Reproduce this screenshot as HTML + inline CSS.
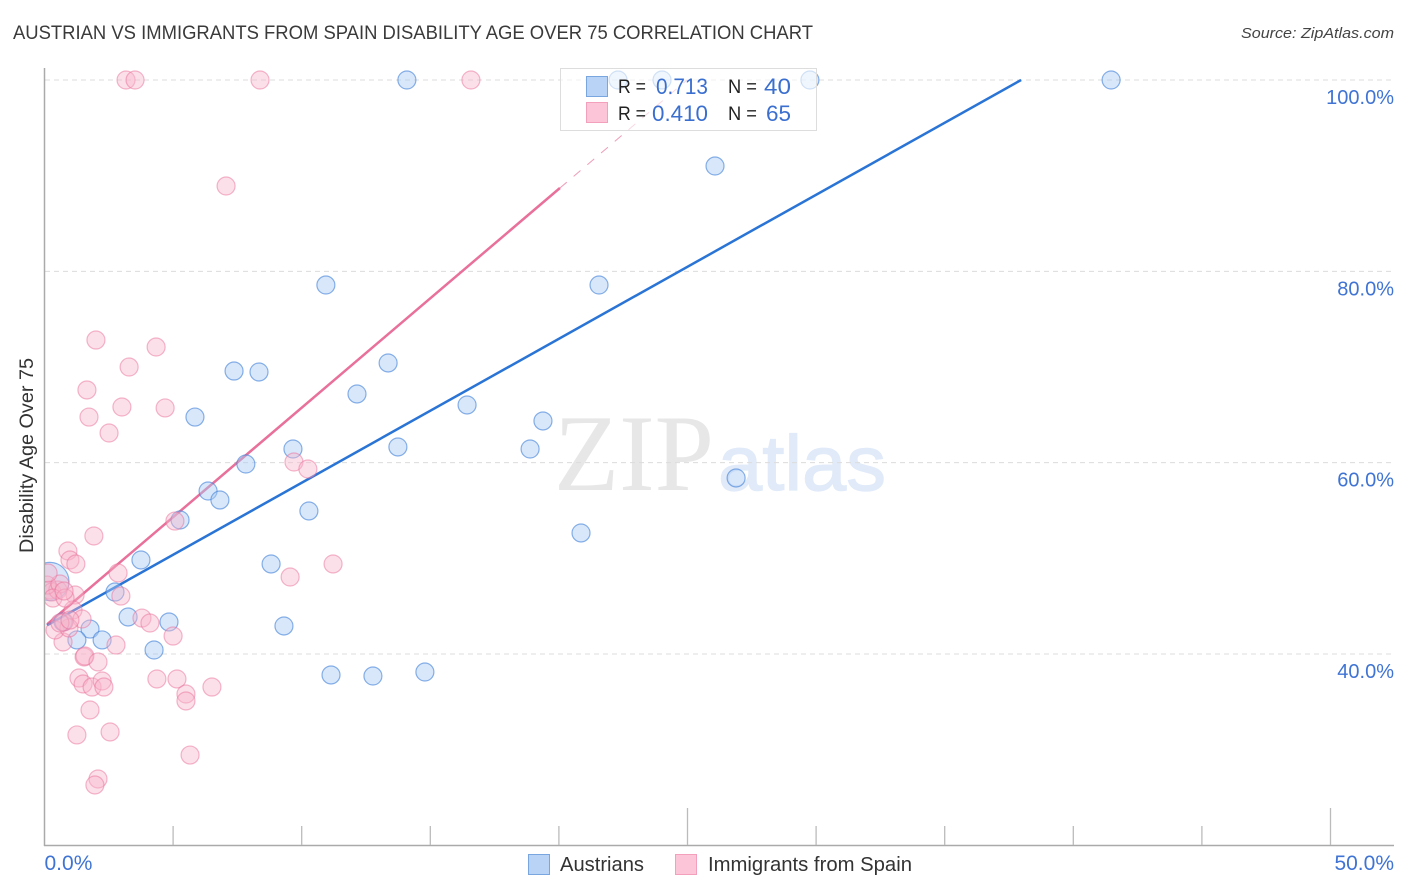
<!DOCTYPE html>
<html lang="en">
<head>
<meta charset="utf-8">
<title>Austrian vs Immigrants from Spain Disability Age Over 75 Correlation Chart</title>
<style>
  html, body { margin: 0; padding: 0; background: #fff; }
  svg { display: block; font-family: "Liberation Sans", sans-serif; }
</style>
</head>
<body>
<svg id="chart" xmlns="http://www.w3.org/2000/svg" width="1406" height="892" viewBox="0 0 1406 892">
  <defs>
    <clipPath id="plot-clip"><rect x="45" y="60" width="1350" height="786"></rect></clipPath>
  </defs>
  <rect x="0" y="0" width="1406" height="892" fill="#fff"></rect>
  <text x="13" y="39" font-size="19" fill="#3a3a3a" textLength="800" lengthAdjust="spacingAndGlyphs">AUSTRIAN VS IMMIGRANTS FROM SPAIN DISABILITY AGE OVER 75 CORRELATION CHART</text>
  <text x="1241" y="38" font-size="15" font-style="italic" fill="#444" textLength="153" lengthAdjust="spacingAndGlyphs">Source: ZipAtlas.com</text>
  <g>
    <text x="554" y="490" font-family="'Liberation Serif', serif" font-size="109" fill="#e7e7e7" textLength="160" lengthAdjust="spacingAndGlyphs">ZIP</text>
    <text x="718" y="490" font-size="78" fill="#e0eaf8" stroke="#e0eaf8" stroke-width="1.2" textLength="168" lengthAdjust="spacingAndGlyphs">atlas</text>
  </g>
  <g id="grid"></g>
  <g id="axes"></g>
  <g id="lines"></g>
  <g id="points" clip-path="url(#plot-clip)"></g>
  <text transform="translate(33 553) rotate(-90)" font-size="19" fill="#333" textLength="195" lengthAdjust="spacingAndGlyphs">Disability Age Over 75</text>

  <g>
    <rect x="560.5" y="68.5" width="256" height="62" fill="#fff" fill-opacity="0.62" stroke="#ddd" stroke-width="1"></rect>
    <rect x="586.5" y="76.5" width="21" height="20" fill="#b9d3f6" stroke="#7aa6e0"></rect>
    <rect x="586.5" y="102.5" width="21" height="20" fill="#fcc5d8" stroke="#f2a0bc"></rect>
    <text x="618" y="93" font-size="19" fill="#222" textLength="28" lengthAdjust="spacingAndGlyphs">R =</text>
    <text x="656" y="94" font-size="22" fill="#3a6fd0" textLength="52" lengthAdjust="spacingAndGlyphs">0.713</text>
    <text x="728" y="93" font-size="19" fill="#222" textLength="29" lengthAdjust="spacingAndGlyphs">N =</text>
    <text x="764" y="94" font-size="22" fill="#3a6fd0" textLength="27" lengthAdjust="spacingAndGlyphs">40</text>
    <text x="618" y="120" font-size="19" fill="#222" textLength="28" lengthAdjust="spacingAndGlyphs">R =</text>
    <text x="652" y="121" font-size="22" fill="#3a6fd0" textLength="56" lengthAdjust="spacingAndGlyphs">0.410</text>
    <text x="728" y="120" font-size="19" fill="#222" textLength="29" lengthAdjust="spacingAndGlyphs">N =</text>
    <text x="766" y="121" font-size="22" fill="#3a6fd0" textLength="25" lengthAdjust="spacingAndGlyphs">65</text>
  </g>

  <g>
    <rect x="528.5" y="854.5" width="21" height="20" fill="#b9d3f6" stroke="#7aa6e0"></rect>
    <text x="560" y="871" font-size="20" fill="#333" textLength="84" lengthAdjust="spacingAndGlyphs">Austrians</text>
    <rect x="675.5" y="854.5" width="21" height="20" fill="#fcc5d8" stroke="#f2a0bc"></rect>
    <text x="708" y="871" font-size="20" fill="#333" textLength="204" lengthAdjust="spacingAndGlyphs">Immigrants from Spain</text>
  </g>
</svg>
<script>
const yTickValues = [100, 80, 60, 40];
const yTickLabels = ["100.0%", "80.0%", "60.0%", "40.0%"];
const xTickValues = [5, 10, 15, 20, 25, 30, 35, 40, 45, 50];
const xMajorTicks = [25, 50];
const xEndValues = [0, 50];
const xEndLabels = ["0.0%", "50.0%"];

const austrianX = [14.09, 22.30, 24.01, 29.76, 41.47, 26.07, 10.94, 21.56, 13.36, 7.37, 8.34, 12.15, 16.43, 5.85, 19.38, 13.74, 9.66, 18.88, 7.83, 26.89, 6.36, 6.82, 10.28, 5.27, 20.86, 3.75, 8.81, 2.74, 3.25, 4.84, 1.77, 9.31, 1.26, 2.24, 4.26, 11.14, 12.77, 14.79, 0.72, 0.21];
const austrianY = [100, 100, 100, 100, 100, 91.01, 78.57, 78.57, 70.42, 69.58, 69.48, 67.18, 66.03, 64.77, 64.36, 61.64, 61.43, 61.43, 59.86, 58.40, 57.04, 56.10, 54.95, 54.01, 52.65, 49.83, 49.41, 46.48, 43.87, 43.35, 42.61, 42.93, 41.47, 41.47, 40.42, 37.81, 37.70, 38.12, 43.35, 47.58];
const austrianWeight = [1, 1, 1, 1, 1, 1, 1, 1, 1, 1, 1, 1, 1, 1, 1, 1, 1, 1, 1, 1, 1, 1, 1, 1, 1, 1, 1, 1, 1, 1, 1, 1, 1, 1, 1, 1, 1, 1, 1, 4.5];

const immigrantX = [3.17, 3.52, 8.38, 16.58, 7.06, 2.00, 4.34, 3.29, 1.65, 1.73, 3.01, 4.69, 2.51, 9.70, 10.24, 1.92, 5.07, 0.91, 0.99, 1.22, 11.22, 9.55, 2.86, 2.97, 1.19, 1.11, 1.46, 3.79, 4.10, 5.00, 2.78, 0.72, 0.41, 0.95, 0.76, 0.60, 0.99, 1.54, 1.57, 2.08, 1.34, 1.50, 1.85, 2.24, 2.31, 4.37, 5.15, 5.50, 5.50, 6.51, 1.77, 1.26, 2.55, 5.66, 2.08, 1.96, 0.21, 0.29, 0.52, 0.10, 0.60, 0.14, 0.33, 0.80, 0.76];
const immigrantY = [100, 100, 100, 100, 88.92, 72.82, 72.09, 70.00, 67.60, 64.77, 65.82, 65.72, 63.10, 60.07, 59.34, 52.34, 53.90, 50.77, 49.83, 49.41, 49.41, 48.05, 48.47, 46.06, 46.17, 44.60, 43.66, 43.76, 43.24, 41.88, 40.94, 41.26, 42.51, 42.72, 43.35, 43.24, 43.55, 39.69, 39.79, 39.17, 37.49, 36.87, 36.55, 37.18, 36.55, 37.39, 37.39, 35.82, 35.09, 36.55, 34.15, 31.54, 31.85, 29.44, 26.94, 26.31, 46.69, 46.48, 46.69, 47.21, 47.32, 48.47, 45.85, 45.85, 46.59];

const austrianTrendX = [0.1, 37.97];
const austrianTrendY = [43.0, 100];
const immigrantTrendX = [0.1, 20.04];
const immigrantTrendY = [43.1, 88.71];
const immigrantDashX = [20.04, 24.98];
const immigrantDashY = [88.71, 100];

const SVG_NS = "http://www.w3.org/2000/svg";
function xScale(v) { return 44.5 + v * 25.72; }
function yScale(v) { return 80 + (100 - v) * 9.567; }
function make(tag, attrs, parent) {
  const el = document.createElementNS(SVG_NS, tag);
  for (const k in attrs) el.setAttribute(k, attrs[k]);
  parent.appendChild(el);
  return el;
}

const grid = document.getElementById("grid");
const axes = document.getElementById("axes");
const lines = document.getElementById("lines");
const points = document.getElementById("points");

yTickValues.forEach(function (v, i) {
  const g = make("line", { x1: 45, x2: 1394, y1: yScale(v), y2: yScale(v), stroke: "#dcdcdc", "stroke-width": 1, "stroke-dasharray": "5 4" }, grid);
  
  
  const t = make("text", { x: 1394, y: yScale(v) + 24, "font-size": 20, fill: "#3f74d4", "text-anchor": "end" }, axes);
  t.textContent = yTickLabels[i];
  
  
});

const yAxisLine = make("line", { x1: 44.5, x2: 44.5, y1: 68, y2: 846, stroke: "#aaa", "stroke-width": 1.5 }, axes);


const xAxisLine = make("line", { x1: 44, x2: 1394, y1: 845.5, y2: 845.5, stroke: "#aaa", "stroke-width": 1.5 }, axes);



xTickValues.forEach(function (v) {
  const top = xMajorTicks.indexOf(v) >= 0 ? 808 : 826;
  const tick = make("line", { x1: xScale(v), x2: xScale(v), y1: top, y2: 845, stroke: "#bbb", "stroke-width": 1.3 }, axes);
  
  
});

xEndValues.forEach(function (v, i) {
  const t = make("text", { x: i === 0 ? xScale(v) : 1394, y: 870, "font-size": 21, fill: "#3f74d4", "text-anchor": i === 0 ? "start" : "end" }, axes);
  t.textContent = xEndLabels[i];
  
  
});

austrianX.forEach(function (v, i) {
  const c = make("circle", { cx: xScale(v), cy: yScale(austrianY[i]), r: 9 * Math.sqrt(austrianWeight[i]), fill: "#a9c9f3", "fill-opacity": 0.45, stroke: "#3d7fd9", "stroke-opacity": 0.6, "stroke-width": 1.2 }, points);
  
  
});

immigrantX.forEach(function (v, i) {
  const c = make("circle", { cx: xScale(v), cy: yScale(immigrantY[i]), r: 9, fill: "#f8b4cb", "fill-opacity": 0.42, stroke: "#ea6f9a", "stroke-opacity": 0.5, "stroke-width": 1.2 }, points);
  
  
});

const immigrantDash = make("line", { x1: xScale(immigrantDashX[0]), y1: yScale(immigrantDashY[0]), x2: xScale(immigrantDashX[1]), y2: yScale(immigrantDashY[1]), stroke: "#e8709a", "stroke-width": 1, "stroke-dasharray": "9 9", "stroke-opacity": 0.7 }, lines);


const immigrantLine = make("line", { x1: xScale(immigrantTrendX[0]), y1: yScale(immigrantTrendY[0]), x2: xScale(immigrantTrendX[1]), y2: yScale(immigrantTrendY[1]), stroke: "#e8709a", "stroke-width": 2.5 }, lines);


const austrianLine = make("line", { x1: xScale(austrianTrendX[0]), y1: yScale(austrianTrendY[0]), x2: xScale(austrianTrendX[1]), y2: yScale(austrianTrendY[1]), stroke: "#2a74d6", "stroke-width": 2.5 }, lines);


</script>
</body>
</html>
